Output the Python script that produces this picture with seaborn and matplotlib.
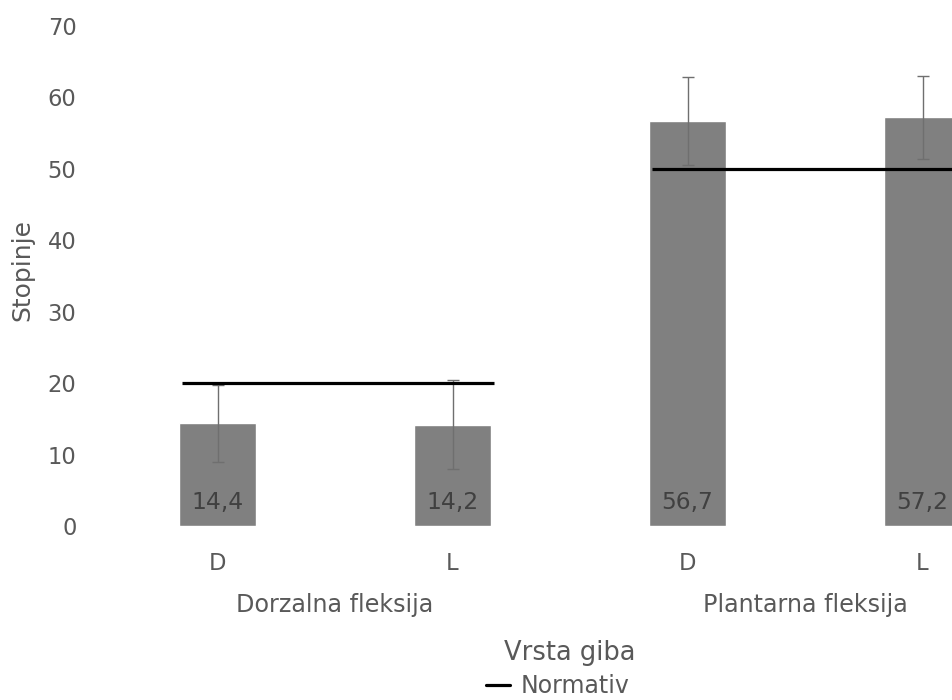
import matplotlib
matplotlib.use("Agg")
import matplotlib.pyplot as plt
import matplotlib.transforms as mtransforms
from matplotlib.lines import Line2D
import seaborn as sns
import pandas as pd

# ---- data ----
keys = ["Dorzalna D", "Dorzalna L", "Plantarna D", "Plantarna L"]
tick_labels = ["D", "L", "D", "L"]
groups = ["Dorzalna fleksija", "Plantarna fleksija"]
means = [14.4, 14.2, 56.7, 57.2]
sds = [5.4, 6.2, 6.1, 5.8]
value_labels = ["14,4", "14,2", "56,7", "57,2"]
normativ = [20, 50]
y_ticks = [0, 10, 20, 30, 40, 50, 60, 70]

sns.set_theme(style="white")
plt.rcParams["font.family"] = ["DejaVu Sans"]

df = pd.DataFrame({"key": keys, "mean": means})

fig = plt.figure(figsize=(9.53, 7.0), dpi=100)
ax = fig.add_axes([100 / 953, 174 / 700, 940 / 953, 500 / 700])

width = 0.325
sns.barplot(data=df, x="key", y="mean", order=keys, color="#808080",
            saturation=1, width=width, errorbar=None, ax=ax, zorder=2)

xs = list(range(len(keys)))
ax.errorbar(xs, means, yerr=sds, fmt="none", ecolor="#6f6f6f",
            elinewidth=1.0, capsize=4.6, capthick=1.0, zorder=3)

# Normativ lines (one per group, spanning its two bars)
for gi, val in enumerate(normativ):
    x0 = xs[2 * gi] - width / 2 + 0.012
    x1 = xs[2 * gi + 1] + width / 2 + 0.012
    ax.hlines(val, x0, x1, color="black", lw=2.3, zorder=4)

for x, lab in zip(xs, value_labels):
    ax.annotate(lab, (x, 0), xytext=(0, 12.3), textcoords="offset points",
                ha="center", va="baseline", fontsize=16.8, color="#404040",
                zorder=5)

ax.set_xlim(-0.5, 3.5)
ax.set_ylim(0, 70)
ax.set_yticks(y_ticks)
ax.set_yticklabels([str(t) for t in y_ticks])
ax.set_xticks(xs)
ax.set_xticklabels(tick_labels)
ax.tick_params(axis="both", length=0, labelsize=16.3, labelcolor="#595959")
ax.tick_params(axis="y", pad=17)
ax.tick_params(axis="x", pad=19)
for s in ax.spines.values():
    s.set_visible(False)
ax.set_xlabel("")
ax.set_ylabel("Stopinje", fontsize=18, color="#595959")
ax.yaxis.set_label_coords(-66 / 940, (526 - 270) / 500)

trans = mtransforms.blended_transform_factory(ax.transData, fig.transFigure)
for gi, g in enumerate(groups):
    cx = (xs[2 * gi] + xs[2 * gi + 1]) / 2
    ax.text(cx, 1 - 605 / 700, g, transform=trans, ha="center", va="center",
            fontsize=17.2, color="#595959")

fig.text(570 / 953, 1 - 653 / 700, "Vrsta giba", ha="center", va="center",
         fontsize=18.5, color="#595959")

handle = Line2D([0], [0], color="black", lw=2.3)
fig.legend([handle], ["Normativ"], loc="center", bbox_to_anchor=(558 / 953, 1 - 686 / 700),
           frameon=False, fontsize=17, labelcolor="#595959", handlelength=1.0,
           handletextpad=0.45, borderpad=0, borderaxespad=0)

fig.savefig("out.png", dpi=100)
